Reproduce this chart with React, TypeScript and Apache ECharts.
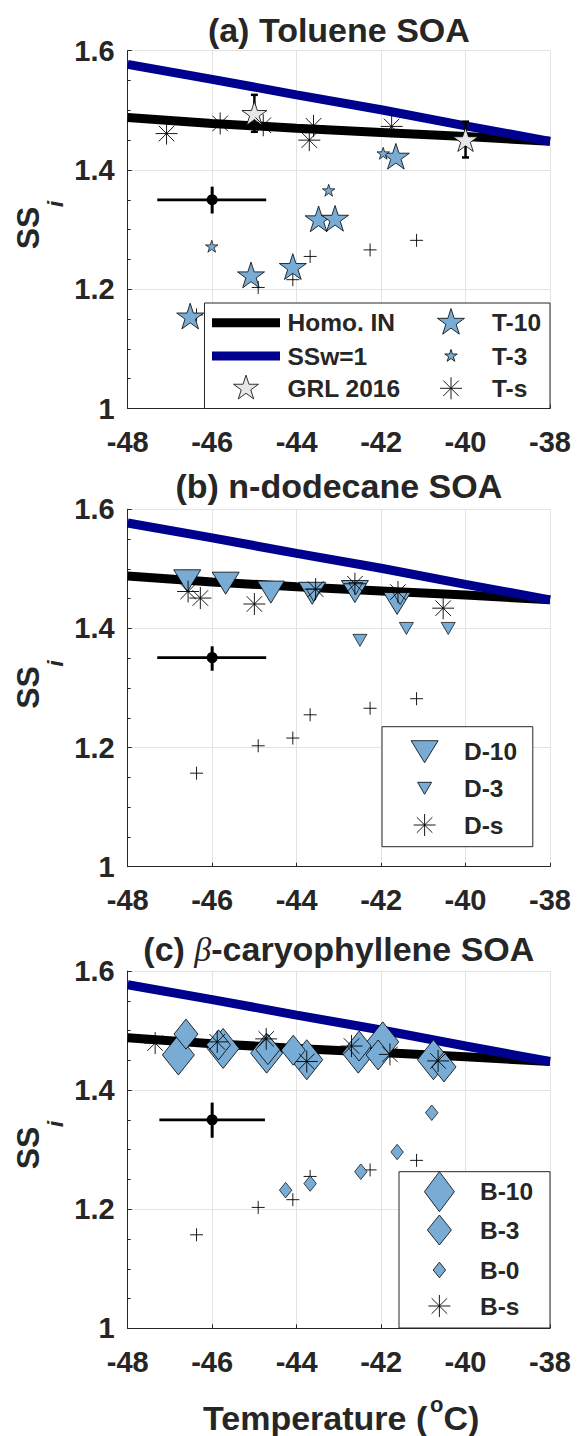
import React, { useEffect, useRef } from "react";
import * as echarts from "echarts";

// ---------------- data ----------------
const curveT = [-48, -46, -44, -42, -40, -38];
const homoSS = [1.488, 1.478, 1.47, 1.463, 1.456, 1.448];
const waterSS = [1.577, 1.552, 1.526, 1.501, 1.474, 1.448];

const plusT = [-46.37, -44.91, -44.09, -43.68, -42.26, -41.16];
const plusSS = [1.157, 1.203, 1.216, 1.255, 1.266, 1.282];

const refT = [-46.0, -46.0, -46.0];
const refSS = [1.35, 1.351, 1.35];
const refTLo = [-47.3, -47.3, -47.25];
const refTHi = [-44.72, -44.72, -44.75];
const refSSLo = [1.327, 1.329, 1.32];
const refSSHi = [1.372, 1.37, 1.379];

const grlT = [-45.0, -40.0];
const grlSS = [1.495, 1.451];
const grlLo = [1.464, 1.421];
const grlHi = [1.526, 1.481];

const t10T = [-46.52, -45.08, -44.09, -43.48, -43.09, -41.65];
const t10SS = [1.155, 1.224, 1.238, 1.318, 1.319, 1.423];
const t3T = [-46.01, -43.24, -41.95];
const t3SS = [1.272, 1.366, 1.428];
const tsT = [-47.08, -45.81, -44.79, -43.7, -43.6, -41.75];
const tsSS = [1.461, 1.478, 1.475, 1.45, 1.474, 1.473];

const d10T = [-46.59, -45.68, -44.61, -43.63, -42.62, -41.62];
const d10SS = [1.48, 1.476, 1.461, 1.459, 1.462, 1.442];
const d3T = [-43.6, -42.6, -41.55, -42.5, -41.4, -40.41];
const d3SS = [1.456, 1.467, 1.45, 1.38, 1.4, 1.4];
const dsT = [-46.57, -46.28, -45.0, -43.55, -42.62, -41.6, -40.53];
const dsSS = [1.462, 1.451, 1.441, 1.466, 1.475, 1.461, 1.434];

const b10T = [-46.8, -45.74, -44.71, -43.76, -42.54, -41.96, -40.76];
const b10SS = [1.459, 1.47, 1.462, 1.451, 1.462, 1.481, 1.451];
const b3T = [-46.62, -45.85, -44.68, -44.08, -42.52, -42.07, -40.51];
const b3SS = [1.494, 1.476, 1.468, 1.467, 1.474, 1.459, 1.439];
const b0T = [-44.26, -43.68, -42.48, -41.62, -40.8];
const b0SS = [1.232, 1.243, 1.263, 1.296, 1.362];
const bsT = [-47.35, -45.88, -44.72, -43.76, -42.7, -41.79, -40.65];
const bsSS = [1.479, 1.481, 1.486, 1.448, 1.474, 1.46, 1.449];

const titles = ["(a) Toluene SOA", "(b) n-dodecane SOA", "(c) β-caryophyllene SOA"];
const legendA = ["Homo. IN", "SSw=1", "GRL 2016", "T-10", "T-3", "T-s"];
const legendB = ["D-10", "D-3", "D-s"];
const legendC = ["B-10", "B-3", "B-0", "B-s"];
const xName = ["Temperature (", "o", "C)"];
const yName = ["SS", "i"];

// ---------------- style ----------------
const FONT = '"Liberation Sans", Arial, Helvetica, sans-serif';
const INK = "#262626";
const FILL = "#78acd4";
const GRAY = "#e6e6e6";
const BLUE = "#00008f";
const GRID_LINE = "#e3e3e3";

const LEFT = 127.7;
const WIDTH = 422.3;
const PANELS = [
  { top: 50.7, h: 357.8 },
  { top: 509.3, h: 357.4 },
  { top: 971, h: 357.3 },
];

const starPts = (cx: number, cy: number, r: number) => {
  const pts: number[][] = [];
  for (let k = 0; k < 10; k++) {
    const a = -Math.PI / 2 + (k * Math.PI) / 5;
    const rr = k % 2 === 0 ? r : r * 0.382;
    pts.push([cx + rr * Math.cos(a), cy + rr * Math.sin(a)]);
  }
  return pts;
};
const STAR = "path://M" + starPts(0, 0, 10).map((p) => p[0].toFixed(3) + "," + p[1].toFixed(3)).join("L") + "Z";
const ASTER = "path://M0,-10L0,10M-10,0L10,0M-7.07,-7.07L7.07,7.07M-7.07,7.07L7.07,-7.07";
const PLUS = "path://M-10,0L10,0M0,-10L0,10";
const TRI_DOWN = "path://M-10,-10L10,-10L0,10Z";

const pairs = (xs: number[], ys: number[]) => xs.map((x, i) => [x, ys[i]]);

const scatter = (i: number, xs: number[], ys: number[], symbol: string, size: any, fill: string, bw: number, z = 4) => ({
  type: "scatter",
  xAxisIndex: i,
  yAxisIndex: i,
  data: pairs(xs, ys),
  symbol,
  symbolSize: size,
  itemStyle: { color: fill, borderColor: "#000", borderWidth: bw, opacity: 1 },
  silent: true,
  z,
});

const lineSeries = (i: number, ys: number[], color: string, z: number) => ({
  type: "line",
  xAxisIndex: i,
  yAxisIndex: i,
  data: pairs(curveT, ys),
  symbol: "none",
  lineStyle: { color, width: 9 },
  clip: true,
  silent: true,
  z,
});

const refSeries = (i: number) => ({
  type: "custom",
  xAxisIndex: i,
  yAxisIndex: i,
  silent: true,
  z: 3,
  data: [[refT[i], refSS[i], refTLo[i], refTHi[i], refSSLo[i], refSSHi[i]]],
  encode: { x: [0, 2, 3], y: [1, 4, 5] },
  renderItem: (_p: any, api: any) => {
    const l = api.coord([api.value(2), api.value(1)]);
    const r = api.coord([api.value(3), api.value(1)]);
    const lo = api.coord([api.value(0), api.value(4)]);
    const hi = api.coord([api.value(0), api.value(5)]);
    const c = api.coord([api.value(0), api.value(1)]);
    return {
      type: "group",
      children: [
        { type: "line", shape: { x1: l[0], y1: l[1], x2: r[0], y2: r[1] }, style: { stroke: "#000", lineWidth: 2.7 } },
        { type: "line", shape: { x1: lo[0], y1: lo[1], x2: hi[0], y2: hi[1] }, style: { stroke: "#000", lineWidth: 3 } },
        { type: "circle", shape: { cx: c[0], cy: c[1], r: 5.5 }, style: { fill: "#000" } },
      ],
    };
  },
});

const grlErrSeries = () => ({
  type: "custom",
  xAxisIndex: 0,
  yAxisIndex: 0,
  silent: true,
  z: 3,
  data: grlT.map((t, k) => [t, grlSS[k], grlLo[k], grlHi[k]]),
  encode: { x: [0], y: [1, 2, 3] },
  renderItem: (_p: any, api: any) => {
    const lo = api.coord([api.value(0), api.value(2)]);
    const hi = api.coord([api.value(0), api.value(3)]);
    const cw = 3.5;
    const st = { stroke: "#000", lineWidth: 2.5 };
    return {
      type: "group",
      children: [
        { type: "line", shape: { x1: lo[0], y1: lo[1], x2: hi[0], y2: hi[1] }, style: st },
        { type: "line", shape: { x1: lo[0] - cw, y1: lo[1], x2: lo[0] + cw, y2: lo[1] }, style: st },
        { type: "line", shape: { x1: hi[0] - cw, y1: hi[1], x2: hi[0] + cw, y2: hi[1] }, style: st },
      ],
    };
  },
});

// ---------------- graphic helpers ----------------
const Z = 100;
const gText = (x: number, y: number, text: string, size: number, extra: any = {}) => ({
  type: "text",
  x,
  y,
  z: Z + 2,
  silent: true,
  style: {
    text,
    fill: INK,
    fontFamily: FONT,
    fontWeight: "bold",
    fontSize: size,
    align: "left",
    textAlign: "left",
    verticalAlign: "middle",
    textVerticalAlign: "middle",
    ...extra,
  },
});
const gStar = (cx: number, cy: number, w: number, fill: string) => ({
  type: "polygon",
  z: Z + 1,
  silent: true,
  shape: { points: starPts(cx, cy, w / 1.902) },
  style: { fill, stroke: "#000", lineWidth: 0.8 },
});
const gAster = (cx: number, cy: number, s: number) => {
  const r = s / 2;
  const d = r * 0.707;
  const segs = [
    [0, -r, 0, r],
    [-r, 0, r, 0],
    [-d, -d, d, d],
    [-d, d, d, -d],
  ];
  return {
    type: "group",
    z: Z + 1,
    silent: true,
    children: segs.map((s2) => ({
      type: "line",
      z: Z + 1,
      shape: { x1: cx + s2[0], y1: cy + s2[1], x2: cx + s2[2], y2: cy + s2[3] },
      style: { stroke: "#000", lineWidth: 0.9 },
    })),
  };
};
const gTri = (cx: number, cy: number, w: number, h: number) => ({
  type: "polygon",
  z: Z + 1,
  silent: true,
  shape: { points: [[cx - w / 2, cy - h / 2], [cx + w / 2, cy - h / 2], [cx, cy + h / 2]] },
  style: { fill: FILL, stroke: "#000", lineWidth: 0.8 },
});
const gDia = (cx: number, cy: number, w: number, h: number) => ({
  type: "polygon",
  z: Z + 1,
  silent: true,
  shape: { points: [[cx, cy - h / 2], [cx + w / 2, cy], [cx, cy + h / 2], [cx - w / 2, cy]] },
  style: { fill: FILL, stroke: "#000", lineWidth: 0.8 },
});
const gLine = (x1: number, x2: number, y: number, color: string) => ({
  type: "line",
  z: Z + 1,
  silent: true,
  shape: { x1, y1: y, x2, y2: y },
  style: { stroke: color, lineWidth: 9 },
});
const gBox = (x1: number, y1: number, x2: number, y2: number) => ({
  type: "rect",
  z: Z,
  silent: true,
  shape: { x: x1, y: y1, width: x2 - x1, height: y2 - y1 },
  style: { fill: "#fff", stroke: INK, lineWidth: 1 },
});

const yLabel = (cy: number) => ({
  type: "group",
  x: 27.5,
  y: cy,
  rotation: Math.PI / 2,
  z: Z,
  silent: true,
  children: [
    gText(0, 0, yName[0], 32, { align: "center", textAlign: "center" }),
    gText(24, 28, yName[1], 22, { align: "center", textAlign: "center", fontStyle: "italic" }),
  ],
});

export default function App() {
  const ref = useRef<HTMLDivElement>(null);
  useEffect(() => {
    document.body.style.margin = "0";
    const chart = echarts.init(ref.current!, null, { renderer: "svg" });

    const grids = PANELS.map((p) => ({ left: LEFT, top: p.top, width: WIDTH, height: p.h, containLabel: false, outerBoundsMode: "none" }));
    const xAxes = PANELS.map((_, i) => ({
      gridIndex: i,
      type: "value",
      min: -48,
      max: -38,
      interval: 2,
      axisLine: { show: true, onZero: false, lineStyle: { color: INK, width: 1 } },
      axisTick: { show: true, inside: true, length: 4, lineStyle: { color: INK } },
      axisLabel: { color: INK, fontSize: 29, fontWeight: "bold", fontFamily: FONT, margin: 19 },
      splitLine: { show: true, lineStyle: { color: GRID_LINE, width: 1 } },
    }));
    const yAxes = PANELS.map((_, i) => ({
      gridIndex: i,
      type: "value",
      min: 1,
      max: 1.6,
      interval: 0.2,
      axisLine: { show: true, onZero: false, lineStyle: { color: INK, width: 1 } },
      axisTick: { show: true, inside: true, length: 4, lineStyle: { color: INK } },
      minorTick: { show: true, splitNumber: 4, length: 3, lineStyle: { color: INK } },
      axisLabel: { color: INK, fontSize: 29, fontWeight: "bold", fontFamily: FONT, margin: 13, padding: [7, 0, 0, 0] },
      splitLine: { show: true, lineStyle: { color: GRID_LINE, width: 1 } },
    }));

    const series: any[] = [];
    PANELS.forEach((_, i) => {
      series.push(lineSeries(i, homoSS, "#000", 2));
      series.push(lineSeries(i, waterSS, BLUE, 2));
      series.push(refSeries(i));
      series.push(scatter(i, plusT, plusSS, PLUS, 13, "transparent", 0.9));
    });
    // panel a
    series.push(grlErrSeries());
    series.push(scatter(0, t10T, t10SS, STAR, [27, 25.7], FILL, 0.8));
    series.push(scatter(0, t3T, t3SS, STAR, [12.5, 11.9], FILL, 0.7));
    series.push(scatter(0, grlT, grlSS, STAR, [25, 23.8], GRAY, 0.8));
    series.push(scatter(0, tsT, tsSS, ASTER, 22, "transparent", 0.9));
    // panel b
    series.push(scatter(1, d10T, d10SS, TRI_DOWN, [27, 22], FILL, 0.8));
    series.push(scatter(1, d3T, d3SS, TRI_DOWN, [14, 12], FILL, 0.7));
    series.push(scatter(1, dsT, dsSS, ASTER, 22, "transparent", 0.9));
    // panel c
    series.push(scatter(2, b10T, b10SS, "diamond", [32, 40], FILL, 0.8));
    series.push(scatter(2, b3T, b3SS, "diamond", [24, 30], FILL, 0.8));
    series.push(scatter(2, b0T, b0SS, "diamond", [12.5, 15.5], FILL, 0.7));
    series.push(scatter(2, bsT, bsSS, ASTER, 22, "transparent", 0.9));

    const cx = LEFT + WIDTH / 2;
    const graphic: any[] = [
      gText(cx, 29.5, titles[0], 34, { align: "center", textAlign: "center" }),
      gText(cx, 485.5, titles[1], 34, { align: "center", textAlign: "center" }),
      {
        type: "text",
        x: cx,
        y: 949,
        z: Z,
        silent: true,
        style: {
          text: "{n|(c) }{g|" + titles[2].slice(4, 5) + "}{n|" + titles[2].slice(5) + "}",
          align: "center",
          textAlign: "center",
          verticalAlign: "middle",
          textVerticalAlign: "middle",
          rich: {
            n: { fontFamily: FONT, fontWeight: "bold", fontSize: 34, fill: INK, color: INK },
            g: { fontFamily: '"Liberation Serif", "DejaVu Serif", serif', fontStyle: "italic", fontWeight: "normal", fontSize: 34, fill: INK, color: INK },
          },
        },
      },
      yLabel(228),
      yLabel(687.5),
      yLabel(1148),
      // x-axis name
      gText(203, 1418, xName[0], 34),
      gText(430, 1404, xName[1], 22),
      gText(443.5, 1418, xName[2], 34),
      // legend a
      gBox(204.5, 303, 550, 408.5),
      gLine(212, 280, 322.7, "#000"),
      gLine(212, 280, 356, BLUE),
      gStar(246, 388.3, 25, GRAY),
      gText(287.5, 322.7, legendA[0], 24.5),
      gText(287.5, 356, legendA[1], 24.5),
      gText(287.5, 388.3, legendA[2], 24.5),
      gStar(451, 322.7, 27, FILL),
      gStar(451, 356, 12.5, FILL),
      gAster(451, 388.3, 22),
      gText(492, 322.7, legendA[3], 24.5),
      gText(492, 356, legendA[4], 24.5),
      gText(492, 388.3, legendA[5], 24.5),
      // legend b
      gBox(382, 726.7, 532.8, 846.7),
      gTri(424.6, 751.7, 27, 22),
      gTri(424.6, 788.3, 14, 12),
      gAster(424.6, 825, 22),
      gText(464, 751.7, legendB[0], 24.5),
      gText(464, 788.3, legendB[1], 24.5),
      gText(464, 825, legendB[2], 24.5),
      // legend c
      gBox(399, 1171.7, 550, 1328),
      gDia(439.4, 1191.7, 30, 40),
      gDia(439.4, 1230, 24, 30),
      gDia(439.4, 1270, 12.5, 15.5),
      gAster(439.4, 1306, 22),
      gText(480, 1191.7, legendC[0], 24.5),
      gText(480, 1230, legendC[1], 24.5),
      gText(480, 1270, legendC[2], 24.5),
      gText(480, 1306, legendC[3], 24.5),
    ];

    chart.setOption({
      animation: false,
      backgroundColor: "#fff",
      grid: grids,
      xAxis: xAxes,
      yAxis: yAxes,
      series,
      graphic,
    });
    return () => chart.dispose();
  }, []);
  return <div ref={ref} style={{ width: 577, height: 1436 }} />;
}
